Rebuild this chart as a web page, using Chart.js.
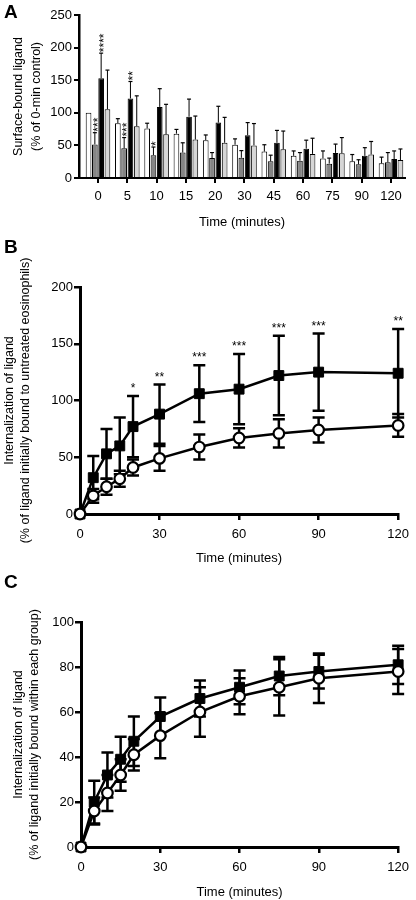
<!DOCTYPE html>
<html><head><meta charset="utf-8">
<script src="https://cdn.jsdelivr.net/npm/chart.js@4/dist/chart.umd.min.js"></script>
<style>
html,body{margin:0;padding:0;background:#fff;}
body{width:416px;height:900px;position:relative;overflow:hidden;}
canvas{position:absolute;left:0;}
.lab{position:absolute;left:4px;font:bold 19px 'Liberation Sans',Arial,sans-serif;line-height:19px;color:#000;}
</style></head><body>
<canvas id="cA" width="416" height="235" style="top:0"></canvas>
<canvas id="cB" width="416" height="335" style="top:235px"></canvas>
<canvas id="cC" width="416" height="330" style="top:570px"></canvas>
<div class="lab" style="top:2px">A</div>
<div class="lab" style="top:237px">B</div>
<div class="lab" style="top:572px">C</div>
<script>
// ---------- Panel A data ----------
const timeCatsA = ['0','5','10','15','20','30','45','60','75','90','120'];
const yTicksA = [0,50,100,150,200,250];
const aWhite    = [100, 84, 76, 68, 58, 51, 40.5, 34, 30, 25.5, 22.5];
const aWhiteErr = [0, 7, 8, 6.5, 8, 9, 10.5, 7.5, 11.5, 10.5, 9.5];
const aDark     = [51.5, 45.5, 35, 39, 30.5, 31, 25.5, 26.5, 22, 21, 24];
const aDarkErr  = [18, 16.5, 12.5, 15, 8.5, 11, 9.5, 12.5, 8.5, 7, 15];
const aDarkStars = ['***','***','*','','','','','','','',''];
const aBlack    = [153, 122, 109, 94, 85, 65.5, 54, 45, 38.5, 34, 29];
const aBlackErr = [38.5, 26, 28, 27, 25, 19.5, 19, 13, 13.5, 12.5, 12.5];
const aBlackStars = ['****','**','','','','','','','','',''];
const aLight    = [105.5, 79.5, 67, 59, 54, 50, 44, 37, 38, 36, 27.5];
const aLightErr = [60, 46.5, 46, 36, 39, 33.5, 28, 24, 24, 20, 17];

// ---------- Panels B and C data ----------
const timesBC = [0, 5, 10, 15, 20, 30, 45, 60, 75, 90, 120];
const xTicksBC = [0, 30, 60, 90, 120];
const yTicksB = [0, 50, 100, 150, 200];
const bSquare    = [0, 32, 53, 60, 77, 88, 106, 110, 122, 125, 124];
const bSquareErr = [0, 19, 22, 25, 27, 26, 25, 31, 35, 34, 39];
const bStars     = ['', '', '', '', '*', '**', '***', '***', '***', '***', '**'];
const bCircle    = [0, 16, 24, 31, 41, 49, 59, 67, 71, 74, 78];
const bCircleErr = [0, 6, 7, 7, 7, 11, 11, 8.5, 12.5, 11, 10];

const yTicksC = [0, 20, 40, 60, 80, 100];
const cSquare    = [0, 20, 32, 39, 47, 58, 66, 71, 76, 78, 81];
const cSquareErr = [0, 9.5, 10, 10, 11, 8.5, 8, 7.5, 8.5, 7.5, 8.5];
const cCircle    = [0, 16, 24, 32, 41, 49.5, 60, 67, 71, 75, 78];
const cCircleErr = [0, 6, 8, 7, 7, 10, 11, 8, 12.5, 11, 10];

const titleX = 'Time (minutes)';
const titleYA = ['Surface-bound ligand', '(% of 0-min control)'];
const titleYB = ['Internalization of ligand', '(% of ligand initially bound to untreated eosinophils)'];
const titleYC = ['Internalization of ligand', '(% of ligand initially bound within each group)'];

// ---------- helpers ----------
const FONT = "'Liberation Sans', Arial, Helvetica, sans-serif";
Chart.defaults.font.family = FONT;
Chart.defaults.color = '#000';
Chart.defaults.animation = false;

function drawErrors(chart, o) {
  const ctx = chart.ctx, ys = chart.scales.y;
  chart.data.datasets.forEach((ds, i) => {
    if (!ds.errs) return;
    const meta = chart.getDatasetMeta(i);
    meta.data.forEach((el, j) => {
      const e = ds.errs[j];
      if (!e) return;
      const v = ds.data[j].y;
      const x = el.x;
      const yTop = ys.getPixelForValue(v + e);
      const yBot = o.twoSided ? ys.getPixelForValue(v - e) : el.y;
      ctx.save();
      ctx.strokeStyle = '#000';
      ctx.lineWidth = o.stem;
      ctx.beginPath(); ctx.moveTo(x, yTop); ctx.lineTo(x, yBot); ctx.stroke();
      ctx.lineWidth = o.capW;
      ctx.beginPath();
      ctx.moveTo(x - o.cap, yTop); ctx.lineTo(x + o.cap, yTop);
      if (o.twoSided) { ctx.moveTo(x - o.cap, yBot); ctx.lineTo(x + o.cap, yBot); }
      ctx.stroke();
      ctx.restore();
    });
  });
}
const errorBars = {
  id: 'errorBars',
  beforeDatasetsDraw(chart, args, o) { if (o.phase === 'before') drawErrors(chart, o); },
  afterDatasetsDraw(chart, args, o) { if (o.phase === 'after') drawErrors(chart, o); }
};
const starMarks = {
  id: 'starMarks',
  afterDatasetsDraw(chart, args, o) {
    const ctx = chart.ctx, ys = chart.scales.y;
    chart.data.datasets.forEach((ds, i) => {
      if (!ds.stars) return;
      const meta = chart.getDatasetMeta(i);
      meta.data.forEach((el, j) => {
        const s = ds.stars[j];
        if (!s) return;
        const yTop = ys.getPixelForValue(ds.data[j].y + (ds.errs ? ds.errs[j] : 0));
        ctx.save();
        ctx.fillStyle = '#000';
        ctx.font = o.size + 'px ' + FONT;
        if (o.vertical) {
          ctx.translate(el.x, yTop - o.gap);
          ctx.rotate(-Math.PI / 2);
          ctx.textAlign = 'left'; ctx.textBaseline = 'alphabetic';
          ctx.fillText(s, 0, o.size * 0.58);
        } else {
          ctx.textAlign = 'center'; ctx.textBaseline = 'alphabetic';
          ctx.fillText(s, el.x, yTop - o.gap);
        }
        ctx.restore();
      });
    });
  }
};
const pts = (arr, xs) => arr.map((v, i) => ({ x: xs ? xs[i] : i, y: v }));

function axisX(o) {
  return {
    type: 'linear', min: o.min, max: o.max, bounds: 'data', offset: false,
    afterBuildTicks: s => { s.ticks = o.ticks.map(v => ({ value: v })); },
    ticks: { callback: o.cb || (v => v), font: { size: 13 }, padding: o.pad, autoSkip: false, maxRotation: 0, color: '#000' },
    grid: { offset: false, drawOnChartArea: false, drawTicks: true, tickLength: o.tl, lineWidth: o.tw, color: '#000' },
    border: { display: true, width: o.bw, color: '#000' },
    title: { display: true, text: titleX, font: { size: 13 }, padding: 0, color: '#000' },
    afterFit: s => { s.height = o.h; }
  };
}
function axisY(o) {
  return {
    type: 'linear', min: o.min, max: o.max, bounds: 'data',
    afterBuildTicks: s => { s.ticks = o.ticks.map(v => ({ value: v })); },
    ticks: { font: { size: 13 }, padding: o.pad, color: '#000' },
    grid: { drawOnChartArea: false, drawTicks: true, tickLength: o.tl, lineWidth: o.tw, color: '#000' },
    border: { display: true, width: o.bw, color: '#000' },
    title: { display: true, text: o.title, font: { size: 12.5, lineHeight: o.lh }, padding: { top: o.tp, bottom: 0 }, color: '#000' },
    afterFit: s => { s.width = o.w; }
  };
}

// ---------- Panel A ----------
const barStyle = { borderColor: '#000', borderWidth: 1, barPercentage: 0.9, categoryPercentage: 0.86 };
new Chart(document.getElementById('cA'), {
  type: 'bar',
  data: {
    datasets: [
      Object.assign({ label: 'Group 1', data: pts(aWhite), errs: aWhiteErr, backgroundColor: '#ffffff' }, barStyle),
      Object.assign({ label: 'Group 2', data: pts(aDark), errs: aDarkErr, stars: aDarkStars, backgroundColor: '#858585' }, barStyle),
      Object.assign({ label: 'Group 3', data: pts(aBlack), errs: aBlackErr, stars: aBlackStars, backgroundColor: '#000000' }, barStyle),
      Object.assign({ label: 'Group 4', data: pts(aLight), errs: aLightErr, backgroundColor: '#d6d6d6' }, barStyle)
    ]
  },
  options: {
    responsive: false, animation: false,
    layout: { padding: { top: 15, right: 11, bottom: 5.2, left: 0 } },
    plugins: {
      legend: { display: false }, tooltip: { enabled: false },
      errorBars: { phase: 'after', twoSided: false, stem: 1, capW: 1.2, cap: 2 },
      starMarks: { vertical: true, size: 12, gap: 1 }
    },
    scales: {
      x: axisX({ min: -0.6485, max: 10.478, ticks: timeCatsA.map((_, i) => i), cb: v => timeCatsA[v], pad: 6, tl: 5, tw: 2, bw: 2, h: 51.8 }),
      y: axisY({ min: 0, max: 250, ticks: yTicksA, pad: 2, tl: 5, tw: 2, bw: 2.5, title: titleYA, lh: 1.4, tp: 10.25, w: 79 })
    }
  },
  plugins: [errorBars, starMarks]
});

// ---------- Panels B & C ----------
function lineDatasets(sq, sqErr, ci, ciErr, stars) {
  return [
    { label: 'Treated', data: pts(sq, timesBC), errs: sqErr, stars: stars, order: 2, clip: false,
      borderColor: '#000', borderWidth: 2.5, backgroundColor: '#000', tension: 0, fill: false,
      pointStyle: 'rect', pointRadius: 7, pointBackgroundColor: '#000', pointBorderColor: '#000', pointBorderWidth: 1 },
    { label: 'Untreated', data: pts(ci, timesBC), errs: ciErr, order: 1, clip: false,
      borderColor: '#000', borderWidth: 2.5, backgroundColor: '#fff', tension: 0, fill: false,
      pointStyle: 'circle', pointRadius: 5.3, pointBackgroundColor: '#fff', pointBorderColor: '#000', pointBorderWidth: 2.2 }
  ];
}
new Chart(document.getElementById('cB'), {
  type: 'line',
  data: { datasets: lineDatasets(bSquare, bSquareErr, bCircle, bCircleErr, bStars) },
  options: {
    responsive: false, animation: false,
    layout: { padding: { top: 52, right: 13, bottom: 4.2, left: 0 } },
    plugins: {
      legend: { display: false }, tooltip: { enabled: false },
      errorBars: { phase: 'before', twoSided: true, stem: 2.5, capW: 2.5, cap: 6 },
      starMarks: { vertical: false, size: 12, gap: 4 }
    },
    scales: {
      x: axisX({ min: 0, max: 120, ticks: xTicksBC, pad: 7, tl: 6, tw: 2.5, bw: 3, h: 51.8 }),
      y: axisY({ min: 0, max: 200, ticks: yTicksB, pad: 1, tl: 6, tw: 2.5, bw: 3, title: titleYB, lh: 1.28, tp: 2, w: 80 })
    }
  },
  plugins: [errorBars, starMarks]
});
new Chart(document.getElementById('cC'), {
  type: 'line',
  data: { datasets: lineDatasets(cSquare, cSquareErr, cCircle, cCircleErr, null) },
  options: {
    responsive: false, animation: false,
    layout: { padding: { top: 52, right: 12, bottom: 0.2, left: 0 } },
    plugins: {
      legend: { display: false }, tooltip: { enabled: false },
      errorBars: { phase: 'before', twoSided: true, stem: 2.5, capW: 2.5, cap: 6 },
      starMarks: { vertical: false, size: 12, gap: 4 }
    },
    scales: {
      x: axisX({ min: 0, max: 120, ticks: xTicksBC, pad: 7, tl: 6, tw: 2.5, bw: 3, h: 52.8 }),
      y: axisY({ min: 0, max: 100, ticks: yTicksC, pad: 1, tl: 6, tw: 2.5, bw: 3, title: titleYC, lh: 1.28, tp: 11, w: 81 })
    }
  },
  plugins: [errorBars, starMarks]
});
</script>
</body></html>
